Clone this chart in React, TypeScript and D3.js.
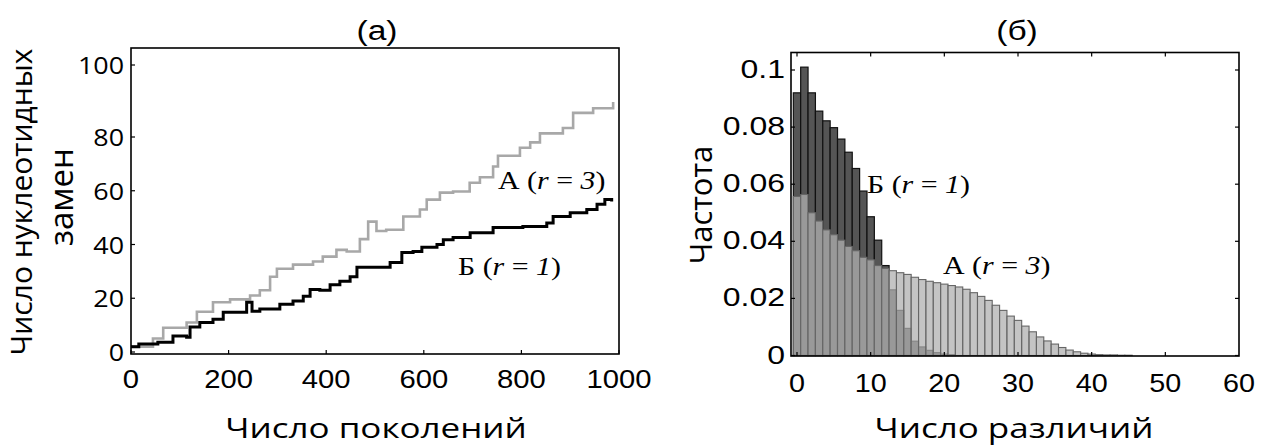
import React from "react";
import * as d3 from "d3";

// ---------- Panel (а): substitutions vs generations ----------
const genA = [0, 45, 66, 114, 135, 168, 203, 244, 264, 285, 299, 332, 373, 393, 421, 442, 469, 486, 503, 523, 558, 592, 606, 633, 660, 694, 715, 742, 752, 797, 818, 838, 885, 906, 947, 988];
const valA = [2, 5, 9, 11, 15, 18.5, 19.6, 21, 23, 28, 31, 32.5, 33.7, 35.5, 38, 37.4, 42, 48.5, 45, 45.5, 50.4, 53, 56.7, 59.3, 59.7, 63, 65, 69, 73, 76, 78, 81, 82.5, 86.7, 88, 89.7];

const genB = [0, 16, 55, 86, 114, 121, 141, 168, 189, 210, 237, 248, 264, 305, 332, 353, 367, 387, 408, 428, 449, 463, 517, 531, 555, 578, 596, 627, 640, 660, 695, 736, 742, 803, 852, 865, 900, 934, 955, 971, 985];
const valB = [2, 3, 3.6, 6, 5.5, 9.3, 11, 12.2, 14.8, 14.8, 18.5, 15.2, 16, 17.8, 19, 20.7, 23.3, 23, 25, 26.3, 28, 31.5, 31.5, 33.3, 37, 37.4, 39, 40, 41.8, 42.6, 44.4, 44.4, 46.3, 46.7, 48, 50.4, 51.8, 53, 55, 56.7, 56];

const xTicksA = [0, 200, 400, 600, 800, 1000];
const yTicksA = [0, 20, 40, 60, 80, 100];

// ---------- Panel (б): frequency distributions ----------
const freqB = [0.092, 0.101, 0.092, 0.0856, 0.0822, 0.0798, 0.0758, 0.0712, 0.0655, 0.0576, 0.0486, 0.0404, 0.0315, 0.023, 0.0158, 0.0095, 0.005, 0.003, 0.0018, 0.001, 0.0005, 0.0003];
const freqA = [0.0557, 0.0564, 0.05, 0.0471, 0.044, 0.0423, 0.0404, 0.0382, 0.0367, 0.0344, 0.0335, 0.0315, 0.0305, 0.0297, 0.029, 0.0284, 0.0274, 0.0266, 0.026, 0.0255, 0.025, 0.0245, 0.024, 0.0232, 0.022, 0.0207, 0.0193, 0.0176, 0.0158, 0.0138, 0.0123, 0.0103, 0.0083, 0.0065, 0.0051, 0.004, 0.0028, 0.0019, 0.0013, 0.0008, 0.0005, 0.0003, 0.0002, 0.0002, 0.0001, 0.0001];
const xTicksB = [0, 10, 20, 30, 40, 50, 60];
const yTicksB = [0, 0.02, 0.04, 0.06, 0.08, 0.1];
const yTickLabelsB = ["0", "0.02", "0.04", "0.06", "0.08", "0.1"];

const SANS = "'Open Sans', sans-serif";
const ARIAL = "'Liberation Sans', Arial, sans-serif";
const SERIF = "'Liberation Serif', 'Times New Roman', serif";

type TProps = {
  x: number;
  y: number;
  size: number;
  sx?: number;
  rot?: number;
  anchor?: "start" | "middle" | "end";
  family: string;
  children: React.ReactNode;
};

function T({ x, y, size, sx = 1, rot = 0, anchor = "start", family, children }: TProps) {
  return (
    <text
      transform={`translate(${x},${y}) rotate(${rot}) scale(${sx},1)`}
      textAnchor={anchor}
      fontFamily={family}
      fontSize={size}
      fill="#000"
    >
      {children}
    </text>
  );
}

function Label({ x, y, letter, num }: { x: number; y: number; letter: string; num: string }) {
  return (
    <T x={x} y={y} size={26} sx={1.15} family={SERIF}>
      {letter} (<tspan fontStyle="italic">r</tspan> = <tspan fontStyle="italic">{num}</tspan>)
    </T>
  );
}

export default function App() {
  // panel a
  const aL = 131, aR = 619, aT = 48, aB = 354;
  const xA = d3.scaleLinear().domain([0, 1000]).range([aL, aR]);
  const yA = d3.scaleLinear().domain([0, 80, 100]).range([352, 137, 65]);
  const lineGen = d3
    .line<[number, number]>()
    .x((d) => xA(d[0]))
    .y((d) => yA(d[1]))
    .curve(d3.curveStepAfter);
  const pathA = lineGen(genA.map((g, i) => [g, valA[i]]));
  const pathB = lineGen(genB.map((g, i) => [g, valB[i]]));

  // panel b
  const xB = d3.scaleLinear().domain([0, 60]).range([797, 1239]);
  const yB = d3.scaleLinear().domain([0, 0.1]).range([355.5, 70]);
  const bL = 791, bR = xB(60), bT = 52.5, bB = 356;
  const bw = xB(1) - xB(0);

  return (
    <svg
      width={1264}
      height={447}
      style={{ position: "absolute", left: 0, top: 0, background: "#fff" }}
    >
      {/* ===== Panel a ===== */}
      <T x={377} y={40} size={27.5} sx={1.22} anchor="middle" family={ARIAL}>(а)</T>
      <path d={pathA || ""} fill="none" stroke="#a8a8a8" strokeWidth={2.6} />
      <path d={pathB || ""} fill="none" stroke="#000" strokeWidth={3} />
      <rect x={aL} y={aT} width={aR - aL} height={aB - aT} fill="none" stroke="#000" strokeWidth={1.6} />
      {yTicksA.map((t) => (
        <g key={"ya" + t}>
          <line x1={aL} x2={aL + 4} y1={yA(t)} y2={yA(t)} stroke="#000" strokeWidth={1.2} />
          <T x={124} y={yA(t) + 9} size={24} sx={1.12} anchor="end" family={SANS}>{t}</T>
        </g>
      ))}
      {xTicksA.map((t) => (
        <g key={"xa" + t}>
          <line x1={xA(t)} x2={xA(t)} y1={aB} y2={aB - 4} stroke="#000" strokeWidth={1.2} />
          <T x={xA(t)} y={388} size={25} sx={1.17} anchor="middle" family={ARIAL}>{t}</T>
        </g>
      ))}
      <T x={376} y={438} size={28} sx={1.25} anchor="middle" family={SANS}>Число поколений</T>
      <T x={32} y={202} size={30} rot={-90} anchor="middle" family={SANS}>Число нуклеотидных</T>
      <T x={73} y={197} size={33} rot={-90} anchor="middle" family={SANS}>замен</T>
      <Label x={498} y={189} letter="А" num="3" />
      <Label x={458} y={275} letter="Б" num="1" />

      {/* ===== Panel b ===== */}
      <T x={1017} y={40} size={27.5} sx={1.22} anchor="middle" family={ARIAL}>(б)</T>
      {freqB.map((v, i) => (
        <rect
          key={"bb" + i}
          x={xB(i) - bw / 2}
          y={yB(v)}
          width={bw}
          height={yB(0) - yB(v)}
          fill="#555"
          stroke="#111"
          strokeWidth={1.2}
        />
      ))}
      {freqA.map((v, i) => (
        <rect
          key={"ba" + i}
          x={xB(i) - bw / 2}
          y={yB(v)}
          width={bw}
          height={yB(0) - yB(v)}
          fill="#b0b0b0"
          fillOpacity={0.75}
          stroke="#666"
          strokeWidth={1.1}
        />
      ))}
      <rect x={bL} y={bT} width={bR - bL} height={bB - bT} fill="none" stroke="#000" strokeWidth={1.6} />
      {yTicksB.map((t, i) => (
        <g key={"yb" + t}>
          <line x1={bL} x2={bL + 4} y1={yB(t)} y2={yB(t)} stroke="#000" strokeWidth={1.2} />
          <line x1={bR} x2={bR - 4} y1={yB(t)} y2={yB(t)} stroke="#000" strokeWidth={1.2} />
          <T x={785} y={yB(t) + 8} size={25} sx={1.28} anchor="end" family={ARIAL}>{yTickLabelsB[i]}</T>
        </g>
      ))}
      {xTicksB.map((t) => (
        <g key={"xb" + t}>
          {xB(t) < bR - 2 && (
            <>
              <line x1={xB(t)} x2={xB(t)} y1={bB} y2={bB - 4} stroke="#000" strokeWidth={1.2} />
              <line x1={xB(t)} x2={xB(t)} y1={bT} y2={bT + 4} stroke="#000" strokeWidth={1.2} />
            </>
          )}
          <T x={xB(t)} y={392} size={25} sx={1.15} anchor="middle" family={ARIAL}>{t}</T>
        </g>
      ))}
      <T x={1014} y={438} size={28} sx={1.25} anchor="middle" family={SANS}>Число различий</T>
      <T x={712} y={205} size={31} rot={-90} anchor="middle" family={SANS}>Частота</T>
      <Label x={867} y={193} letter="Б" num="1" />
      <Label x={943} y={274} letter="А" num="3" />
    </svg>
  );
}
